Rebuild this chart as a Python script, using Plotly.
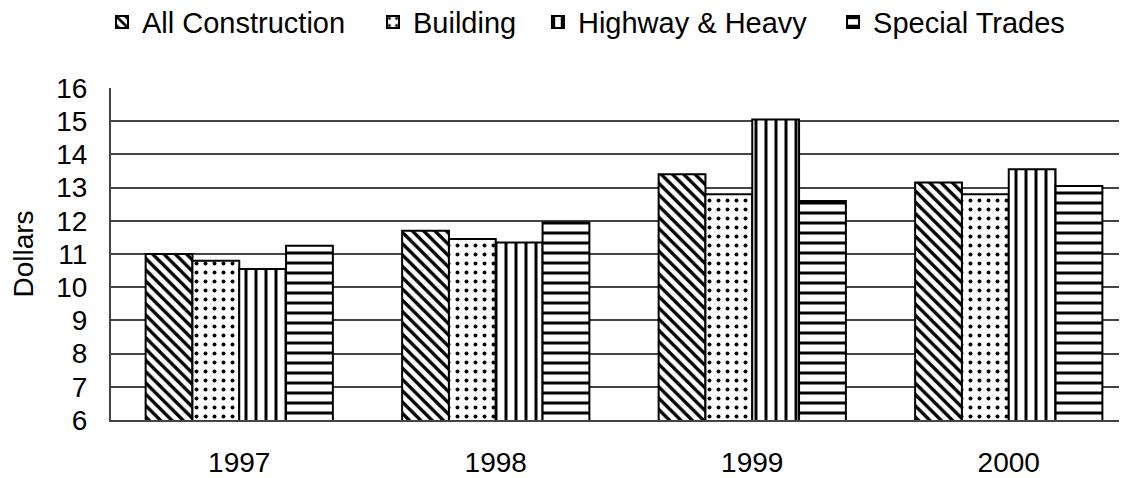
import plotly.graph_objects as go

years = ["1997", "1998", "1999", "2000"]
series_names = ["All Construction", "Building", "Highway & Heavy", "Special Trades"]
all_construction = [11.0, 11.7, 13.4, 13.15]
building = [10.8, 11.45, 12.8, 12.8]
highway_heavy = [10.55, 11.35, 15.05, 13.55]
special_trades = [11.25, 11.95, 12.6, 13.05]
y_ticks = [6, 7, 8, 9, 10, 11, 12, 13, 14, 15, 16]

values = [all_construction, building, highway_heavy, special_trades]
patterns = [
    dict(shape="\\", size=8, solidity=0.42, fgcolor="black", bgcolor="white", fgopacity=1, fillmode="overlay"),
    dict(shape=".", size=9, solidity=0.15, fgcolor="black", bgcolor="white", fgopacity=1, fillmode="overlay"),
    dict(shape="|", size=10, solidity=0.3, fgcolor="black", bgcolor="white", fgopacity=1, fillmode="overlay"),
    dict(shape="-", size=10, solidity=0.3, fgcolor="black", bgcolor="white", fgopacity=1, fillmode="overlay"),
]

FONT = "Liberation Sans, Arial, sans-serif"
FS = 28
LEG_FS = 29
legend_ids = ["legend", "legend2", "legend3", "legend4"]
legend_x = [0.0840, 0.3262, 0.4736, 0.7373]

fig = go.Figure()
for name, vals, pat, lid in zip(series_names, values, patterns, legend_ids):
    fig.add_trace(go.Bar(
        x=years, y=vals, name=name, legend=lid,
        marker=dict(color="white", line=dict(color="black", width=2), pattern=pat),
    ))

legend_cfg = {}
for lid, lx in zip(legend_ids, legend_x):
    legend_cfg[lid] = dict(
        orientation="h", xref="container", yref="container",
        x=lx, y=0.97, xanchor="left", yanchor="middle",
        font=dict(size=LEG_FS), itemwidth=30, bgcolor="rgba(0,0,0,0)",
    )

# page body has an 8px margin, so the figure is sized/offset to compensate
fig.update_layout(
    width=1119, height=470,
    margin=dict(l=103, r=0, t=80, b=58, autoexpand=False),
    paper_bgcolor="white", plot_bgcolor="white",
    barmode="group", bargap=0.27, bargroupgap=0,
    font=dict(family=FONT, size=FS, color="black"),
    showlegend=True,
    **legend_cfg,
)
fig.update_xaxes(
    range=[-0.5, 3.461], showline=True, linecolor="#444", linewidth=2,
    ticks="", showgrid=False, ticklabelstandoff=16, automargin=False,
    tickfont=dict(size=FS),
)
fig.update_yaxes(
    range=[6, 16], tickvals=y_ticks, showline=True, linecolor="#444", linewidth=2,
    showgrid=True, gridcolor="#444", gridwidth=2, zeroline=False, automargin=False,
    ticks="", ticklabelstandoff=16, tickfont=dict(size=FS),
    title=dict(text="Dollars", standoff=18, font=dict(size=FS)),
)

fig.write_html("out.html")
